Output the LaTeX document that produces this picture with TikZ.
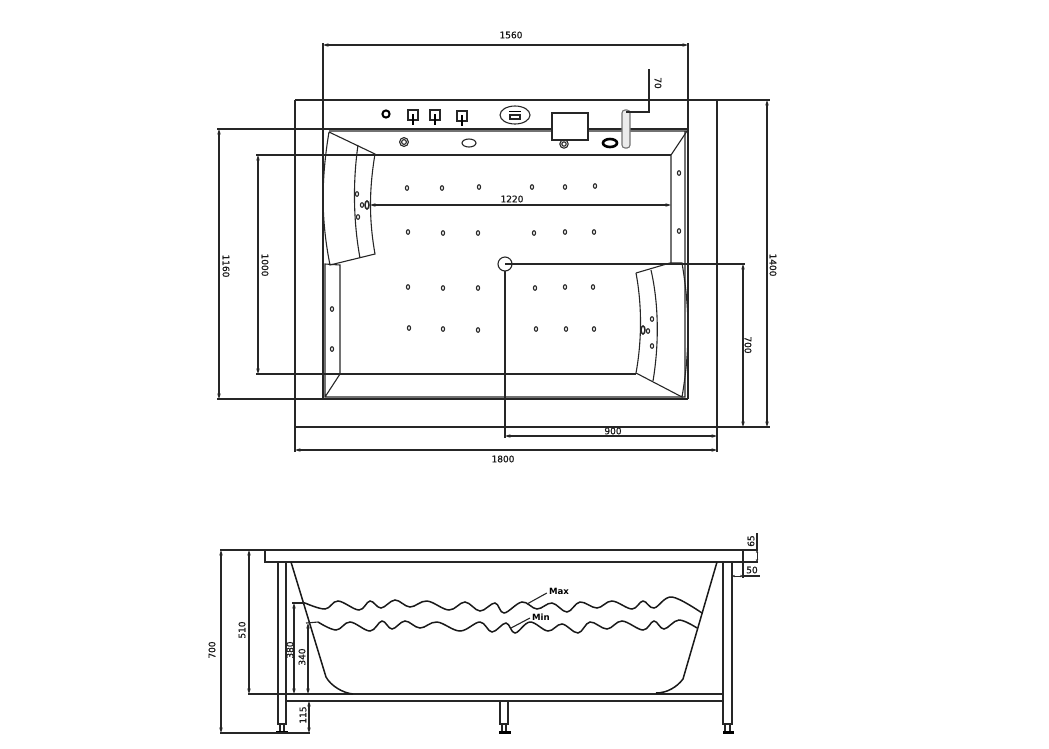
\documentclass[tikz,border=0pt]{standalone}
\usepackage{fontspec}
\setmainfont{DejaVu Sans}
\newfontfamily\dimfont[FakeBold=0.7]{DejaVu Sans}
\usepackage{tikz}
\usetikzlibrary{arrows.meta}
\tikzset{
  edge/.style={draw=black!85, line width=1.1pt},
  thin edge/.style={draw=black!85, line width=1.1pt},
  wave/.style={draw=black!90, line width=1.5pt},
  dimline/.style={draw=black!85, line width=1.1pt, {Stealth[length=5.5pt,width=3.4pt]}-{Stealth[length=5.5pt,width=3.4pt]}},
  tinydim/.style={draw=black!85, line width=1pt, {Stealth[length=3pt,width=2.4pt]}-{Stealth[length=3pt,width=2.4pt]}},
  dimtext/.style={font=\dimfont\fontsize{9}{10}\selectfont, text=black!90, inner sep=0pt},
  jet/.style={draw=black!85, line width=1.1pt},
  handle/.style={draw=black, line width=2pt}
}
\begin{document}
\begin{tikzpicture}[x=1pt, y=-1pt]
  \useasboundingbox (0,0) rectangle (1049,748);

  % plan: frame and extension lines
  \draw[edge] (295,100) -- (770,100);
  \draw[edge] (295,100) -- (295,452);
  \draw[edge] (717,100) -- (717,452);
  \draw[edge] (295,427) -- (770,427);
  \draw[edge] (323,43) -- (323,399);
  \draw[edge] (688,43) -- (688,399);
  \draw[edge] (217,129) -- (688,129);
  \draw[edge] (217,399) -- (688,399);
  \draw[edge] (256,155) -- (671,155);
  \draw[edge] (256,374) -- (636,374);
  \draw[edge] (505,264) -- (745,264);
  \draw[edge] (505,271) -- (505,438);

  % plan: tub rim
  \draw[thin edge] (329,131) -- (687,131) -- (671,155) -- (671,263);
  \draw[thin edge] (685,131) -- (685,397) -- (325,397) -- (325,264) -- (340,265) -- (340,374) -- (325,397);

  % plan: head rests
  \draw[edge] (329,132) -- (375,154) .. controls (369,190) and (369,220) .. (375,254) -- (330,265) .. controls (321,220) and (321,180) .. (329,132);
  \draw[thin edge] (358,145) .. controls (353,180) and (353,220) .. (360,258);
  \draw[edge] (636,273) -- (670,263) -- (682,263) .. controls (690,310) and (690,350) .. (682,397) -- (636,373) .. controls (642,340) and (642,305) .. (636,273);
  \draw[thin edge] (651,270) .. controls (659,305) and (659,345) .. (653,381);

  % plan: controls on the deck
  \draw[black, line width=2pt] (386,114) circle (3.6);
  \foreach \hx/\hy in {413/115, 435/115, 462/116} {
    \draw[edge, line width=1.3pt] (\hx-5,\hy-5) rectangle (\hx+5,\hy+5);
    \draw[handle] (\hx,\hy-1) -- (\hx,\hy+10);
  }
  \draw[edge] (515,115) ellipse (15 and 9);
  \draw[thin edge] (510,115) rectangle (520,119);
  \draw[black, line width=1.2pt] (509,111.5) -- (521,111.5);
  \draw[edge, fill=white] (552,113) rectangle (588,140);
  \draw[edge] (564,144) circle (4.2);
  \draw[thin edge] (564,144) circle (2.2);
  \draw[edge] (404,142) circle (4.4);
  \draw[thin edge] (404,142) circle (2.4);
  \draw[edge] (469,143) ellipse (7 and 4);
  \draw[black, line width=2.6pt] (610,143) ellipse (7 and 4);
  \draw[draw=black!55, line width=1.1pt, fill=black!8, rounded corners=3pt] (622,110) rectangle (630,148);

  % plan: jets
  \foreach \jx/\jy in {407/188, 442/188, 479/187, 532/187, 565/187, 595/186,
      408/232, 443/233, 478/233, 534/233, 565/232, 594/232,
      408/287, 443/288, 478/288, 535/288, 565/287, 593/287,
      409/328, 443/329, 478/330, 536/329, 566/329, 594/329,
      679/173, 679/231, 332/309, 332/349, 357/194, 362/205, 358/217,
      652/319, 648/331, 652/346} {
    \draw[jet] (\jx,\jy) ellipse (1.6 and 2.3);
  }
  \draw[edge, line width=1.5pt] (367,205) ellipse (2 and 4);
  \draw[edge, line width=1.5pt] (643,330) ellipse (2 and 4);
  \draw[edge] (505,264) circle (7);

  % plan: dimensions
  \draw[dimline] (323,45) -- (688,45);
  \draw[dimline] (219,129) -- (219,399);
  \draw[dimline] (258,155) -- (258,374);
  \draw[dimline] (370,205) -- (671,205);
  \draw[dimline] (767,100) -- (767,427);
  \draw[dimline] (743,264) -- (743,427);
  \draw[dimline] (505,436) -- (717,436);
  \draw[dimline] (295,450) -- (717,450);
  \draw[edge] (626,112) -- (649,112) -- (649,69);
  \node[dimtext] (width) at (511,35) {1560};
  \node[dimtext] (span) at (512,199) {1220};
  \node[dimtext] (total) at (503,459) {1800};
  \node[dimtext] (half) at (613,431) {900};
  \node[dimtext, rotate=-90] (depth) at (226,266) {1160};
  \node[dimtext, rotate=-90] (inner) at (265,265) {1000};
  \node[dimtext, rotate=-90] (outer) at (773,265) {1400};
  \node[dimtext, rotate=-90] (drain) at (748,345) {700};
  \node[dimtext, rotate=-90] (tap) at (658,83) {70};

  % side view: deck, legs and frame
  \draw[edge] (265,550) rectangle (743,562);
  \draw[edge] (278,562) -- (278,724) -- (286,724) -- (286,562);
  \draw[edge] (723,562) -- (723,724) -- (732,724) -- (732,562);
  \draw[edge] (500,701) -- (500,724) -- (508,724) -- (508,701);
  \draw[edge] (280,724) -- (280,732) (284,724) -- (284,732);
  \draw[edge] (725,724) -- (725,732) (730,724) -- (730,732);
  \draw[edge] (502,724) -- (502,732) (506,724) -- (506,732);
  \draw[black, line width=2.2pt] (276,732.5) -- (288,732.5);
  \draw[black, line width=2.2pt] (723,732.5) -- (734,732.5);
  \draw[black, line width=2.2pt] (499,732.5) -- (511,732.5);
  \draw[edge] (248,694) -- (723,694);
  \draw[edge] (286,701) -- (723,701);

  % side view: tub and water lines
  \draw[wave] (291,562) -- (326,677) .. controls (331,686) and (343,693) .. (353,694);
  \draw[wave] (717,562) -- (683,679) .. controls (677,687) and (667,693) .. (656,693);
  \draw[wave] plot[smooth, tension=0.6] coordinates {(305,603) (325,609) (338,601) (359,610) (370,601) (381,608) (395,600) (410,607) (427,601) (449,610) (465,602) (480,611) (495,603) (504,613) (522,602) (537,609) (552,603) (567,612) (580,602) (597,608) (612,601) (632,609) (643,601) (654,608) (672,597) (702,613)};
  \draw[wave] plot[smooth, tension=0.6] coordinates {(318,622) (336,630) (350,622) (370,631) (382,621) (392,629) (405,621) (420,628) (437,622) (460,631) (480,622) (492,632) (506,623) (515,633) (530,622) (548,631) (562,624) (578,633) (590,622) (607,629) (622,621) (643,630) (654,621) (664,629) (679,620) (697,628)};
  \node[font=\fontsize{8.6}{10}\selectfont\bfseries, inner sep=0pt] (max) at (559,591) {Max};
  \node[font=\fontsize{8.6}{10}\selectfont\bfseries, inner sep=0pt] (min) at (541,617) {Min};
  \draw[edge] (max.west) ++(-2,2) -- (527,604);
  \draw[edge] (min.west) ++(-2,1) -- (511,628);

  % side view: dimensions
  \draw[edge] (220,550) -- (265,550);
  \draw[edge] (220,733) -- (310,733);
  \draw[edge] (292,603) -- (305,603);
  \draw[edge] (306,623) -- (318,622);
  \draw[edge] (743,562) -- (758,562);
  \draw[edge] (743,550) -- (758,550);
  \draw[edge] (743,562) -- (743,578);
  \draw[edge] (743,576) -- (760,576);
  \draw[dimline] (221,550) -- (221,733);
  \draw[dimline] (249,550) -- (249,694);
  \draw[dimline] (294,603) -- (294,694);
  \draw[dimline] (308,623) -- (308,694);
  \draw[dimline] (309,701) -- (309,733);
  \draw[tinydim] (757,550) -- (757,562);
  \draw[tinydim] (732,576) -- (743,576);
  \draw[edge] (757,533) -- (757,550);
  \node[dimtext, rotate=90] (high) at (212,650) {700};
  \node[dimtext, rotate=90] (rim) at (242,630) {510};
  \node[dimtext, rotate=90] (maxlevel) at (290,650) {380};
  \node[dimtext, rotate=90] (minlevel) at (302,657) {340};
  \node[dimtext, rotate=90] (foot) at (303,715) {115};
  \node[dimtext, rotate=90] (deck) at (751,541) {65};
  \node[dimtext] (over) at (752,570) {50};
\end{tikzpicture}
\end{document}
